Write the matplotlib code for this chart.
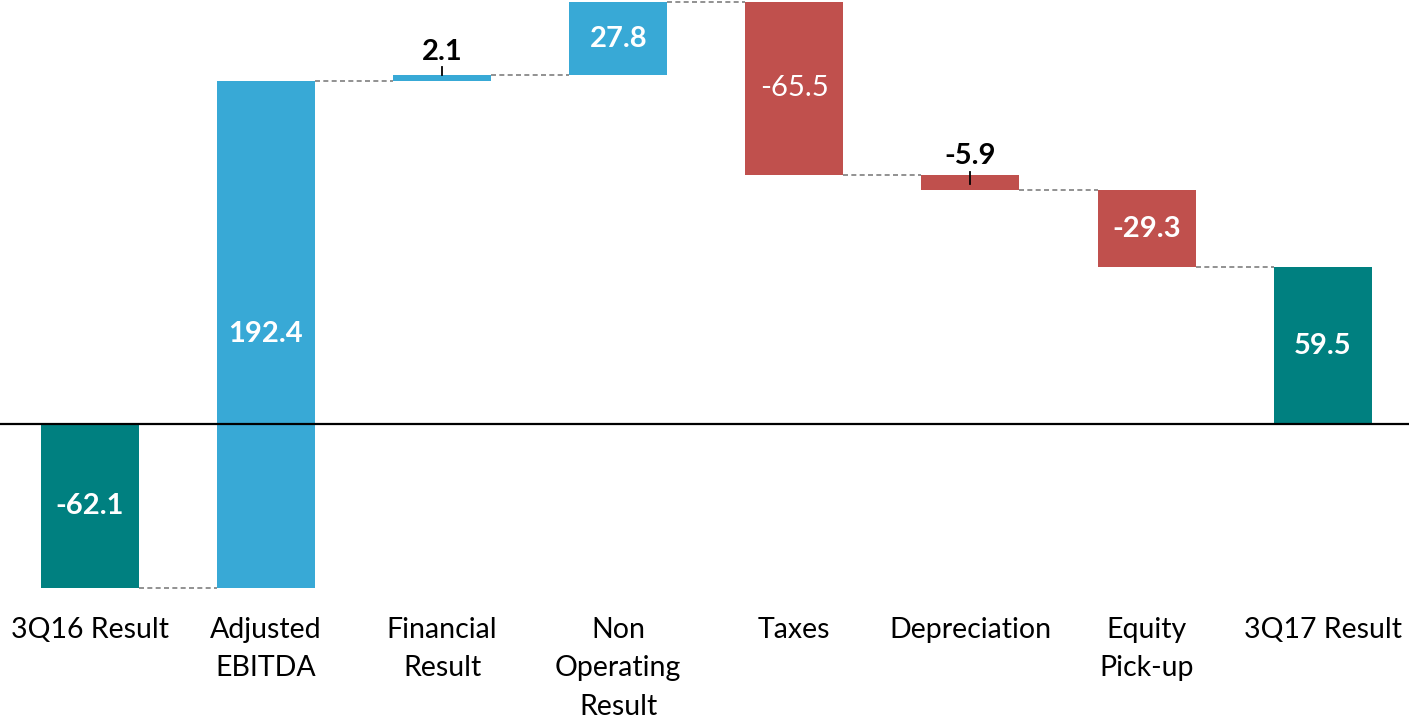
import matplotlib
matplotlib.use("Agg")
import matplotlib.pyplot as plt
import numpy as np

categories = ["3Q16 Result", "Adjusted\nEBITDA", "Financial\nResult", "Non\nOperating\nResult",
              "Taxes", "Depreciation", "Equity\nPick-up", "3Q17 Result"]
values = [-62.1, 192.4, 2.1, 27.8, -65.5, -5.9, -29.3, 59.5]
kinds = ["total", "delta", "delta", "delta", "delta", "delta", "delta", "total"]

plt.rcParams['font.family'] = ['Lato', 'DejaVu Sans']

TEAL = "#008080"
BLUE = "#38A9D6"
RED = "#C0504D"

fig = plt.figure(figsize=(14.09, 7.18), dpi=100)
ax = fig.add_axes([0, 0.178, 1, 0.822])

x = np.arange(len(categories))
bottoms = []
heights = []
colors = []
running = 0.0
for v, k in zip(values, kinds):
    if k == "total":
        bottoms.append(0.0)
        heights.append(v)
        colors.append(TEAL)
        running = v
    else:
        bottoms.append(running)
        heights.append(v)
        colors.append(BLUE if v >= 0 else RED)
        running += v

width = 0.557
ax.bar(x, heights, bottom=bottoms, width=width, color=colors, zorder=2)

# connectors
ends = [b + h for b, h in zip(bottoms, heights)]
for i in range(len(values) - 1):
    level = ends[i]
    ax.plot([x[i] + width / 2, x[i + 1] - width / 2], [level, level],
            color="#7f7f7f", lw=1.2, ls=(0, (3, 2)), zorder=1)

ax.axhline(0, color="black", lw=1.6, zorder=3)

# labels
for i, (v, b, h) in enumerate(zip(values, bottoms, heights)):
    mid = b + h / 2
    txt = f"{v:.1f}"
    if abs(v) < 10:
        top = max(b, b + h)
        if v >= 0:
            ax.plot([x[i], x[i]], [top, top + 3], color="black", lw=1.3, zorder=4)
            ax.text(x[i], top + 4, txt, ha="center", va="bottom", fontsize=21,
                    fontweight="bold", color="black")
        else:
            ax.plot([x[i], x[i]], [b - 3.5, b + 1], color="black", lw=1.3, zorder=4)
            ax.text(x[i], b + 2, txt, ha="center", va="bottom", fontsize=21,
                    fontweight="bold", color="black")
    else:
        weight = "normal" if categories[i] == "Taxes" else "bold"
        ax.text(x[i], mid, txt, ha="center", va="center", fontsize=21,
                fontweight=weight, color="white", zorder=4)

ax.set_xlim(-0.51, 7.49)
ax.set_ylim(-62.86, 160.9)
ax.set_xticks(x)
ax.set_xticklabels(categories, fontsize=20.5, linespacing=1.6, va="top")
ax.tick_params(axis="x", length=0, pad=19)
ax.set_yticks([])
for s in ax.spines.values():
    s.set_visible(False)

fig.savefig("out.png", dpi=100)
